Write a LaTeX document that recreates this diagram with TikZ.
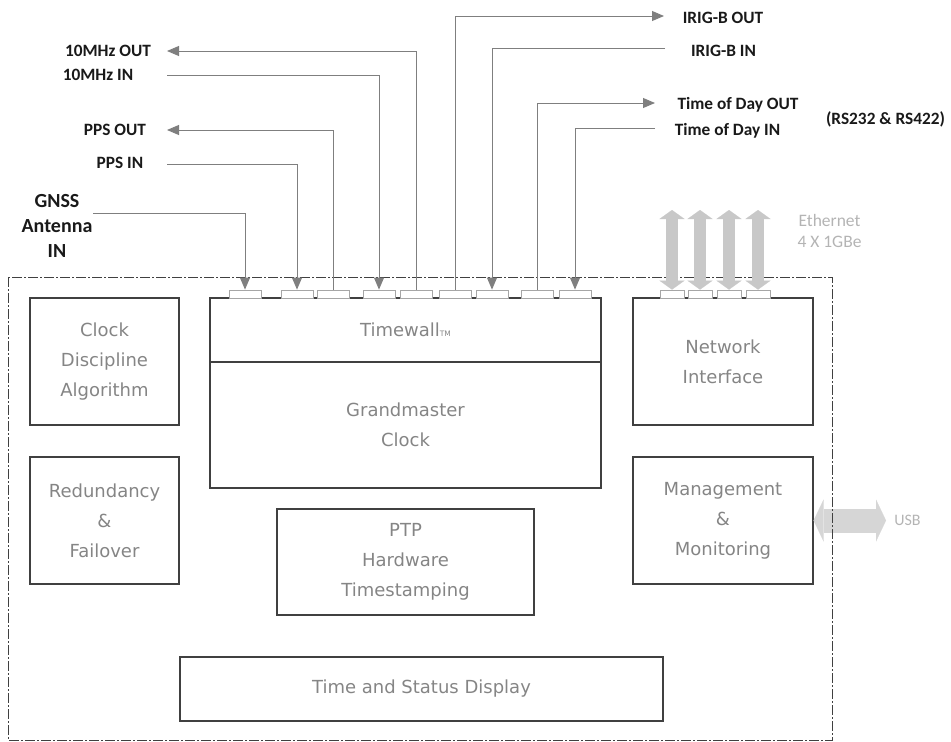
\documentclass[tikz,border=0pt]{standalone}
\usepackage{fontspec}
\setmainfont{DejaVu Sans}
\newfontfamily\lblfont{Carlito}
\usetikzlibrary{arrows.meta}
\definecolor{boxline}{HTML}{404040}
\definecolor{boxtext}{HTML}{858585}
\definecolor{sigline}{HTML}{7F7F7F}
\definecolor{portline}{HTML}{A6A6A6}
\definecolor{ethfill}{HTML}{C8C8C8}
\definecolor{ethtext}{HTML}{B4B4B4}
\definecolor{usbfill}{HTML}{D6D6D6}

\begin{document}
\begin{tikzpicture}[x=1pt,y=-1pt]
        \tikzstyle{blockbox} = [draw=boxline, line width=1.2pt, text=boxtext, align=center, inner sep=0pt, font=\fontsize{18}{30}\selectfont]
        \tikzstyle{port} = [draw=portline, fill=white, line width=0.8pt, minimum width=32pt, minimum height=8pt, inner sep=0pt]
        \tikzstyle{sig} = [draw=sigline, line width=0.9pt, -{Triangle[length=12pt,width=10pt]}]
        \tikzstyle{lbl} = [font=\lblfont\bfseries\fontsize{17.3}{21}\selectfont, text=black!90, inner sep=0pt]
        \useasboundingbox (0,0) rectangle (951,742);

        % usb goes under the border
        \node[blockbox, minimum width=180pt, minimum height=127pt] (mm) at (723,520.5) {Management\\\&\\Monitoring};
        \coordinate (usb) at (886,520.5);
        \draw[line width=24pt, usbfill, {Triangle[length=10pt,width=42pt,line width=0.1pt]}-{Triangle[length=10pt,width=42pt,line width=0.1pt]}] (mm.east) -- (usb);
        \draw[boxline, line width=0.8pt, dash pattern=on 10pt off 2pt on 2pt off 2pt] (8,277) rectangle (832,740);

        \node[blockbox, minimum width=149pt, minimum height=127pt] (cda) at (104.5,361.5) {Clock\\Discipline\\Algorithm};
        \node[blockbox, minimum width=149pt, minimum height=127pt] (rf) at (104.5,520.5) {Redundancy\\\&\\Failover};
        \node[blockbox, minimum width=391pt, minimum height=64pt] (tw) at (405.5,330) {Timewall{\fontsize{7.5}{7.5}\selectfont TM}};
        \node[blockbox, minimum width=391pt, minimum height=126pt] (gm) at (405.5,425) {Grandmaster\\Clock};
        \node[blockbox, minimum width=257pt, minimum height=106pt] (ptp) at (405.5,562) {PTP\\Hardware\\Timestamping};
        \node[blockbox, minimum width=180pt, minimum height=127pt] (ni) at (723,361.5) {Network\\Interface};
        \node[blockbox, minimum width=483pt, minimum height=64pt] (tsd) at (421.5,689) {Time and Status Display};

        \foreach \n/\x in {1/245, 2/297, 3/333, 4/379, 5/416, 6/455, 7/492, 8/537, 9/575}
            \node[port] (p\n) at (\x,294) {};
        \foreach \n/\x in {1/672, 2/700, 3/729, 4/758} {
            \node[port, minimum width=24pt] (e\n) at (\x,294) {};
            \coordinate (et\n) at (\x,210);
        }

        % outside labels
        \node[lbl] (lmhzout) at (108,51) {10MHz OUT};
        \node[lbl] (lmhzin) at (98,75) {10MHz IN};
        \node[lbl] (lppsout) at (115,130) {PPS OUT};
        \node[lbl] (lppsin) at (120,163) {PPS IN};
        \node[lbl, align=center, font=\lblfont\bfseries\fontsize{20}{25}\selectfont] (lgnss) at (57,226) {GNSS\\Antenna\\IN};
        \node[lbl] (lirigout) at (723,18) {IRIG-B OUT};
        \node[lbl] (lirigin) at (723.5,51) {IRIG-B IN};
        \node[lbl] (ltodout) at (738,105) {Time of Day OUT};
        \node[lbl] (ltodin) at (727.5,131) {Time of Day IN};
        \node[lbl] (lrs) at (885.5,119) {(RS232 \& RS422)};
        \node[lbl, text=ethtext, font=\lblfont\fontsize{17.5}{21}\selectfont, align=center] (leth) at (829.5,231) {Ethernet\\4 X 1GBe};
        \node[lbl, text=ethtext, font=\lblfont\fontsize{16}{19}\selectfont] (lusb) at (907.5,520.5) {USB};

        \coordinate (gnssin) at (93,213);
        \coordinate (ppsin) at (167,164);
        \coordinate (ppsout) at (167,130);
        \coordinate (mhzin) at (167,75);
        \coordinate (mhzout) at (167,51);
        \coordinate (irigout) at (664,16);
        \coordinate (irigin) at (665,48);
        \coordinate (todout) at (655,103);
        \coordinate (todin) at (655,128);

        \foreach \from/\to in {gnssin/p1, ppsin/p2, mhzin/p4, irigin/p7, todin/p9}
            \draw[sig] (\from) -| (\to.north);
        \foreach \from/\to in {p3/ppsout, p5/mhzout, p6/irigout, p8/todout}
            \draw[sig] (\from.north) |- (\to);

        \foreach \n in {1,...,4}
            \draw[line width=12pt, ethfill, {Triangle[length=9pt,width=25pt,line width=0.1pt]}-{Triangle[length=9pt,width=25pt,line width=0.1pt]}] (et\n) -- (e\n.north);
      \end{tikzpicture}
\end{document}
